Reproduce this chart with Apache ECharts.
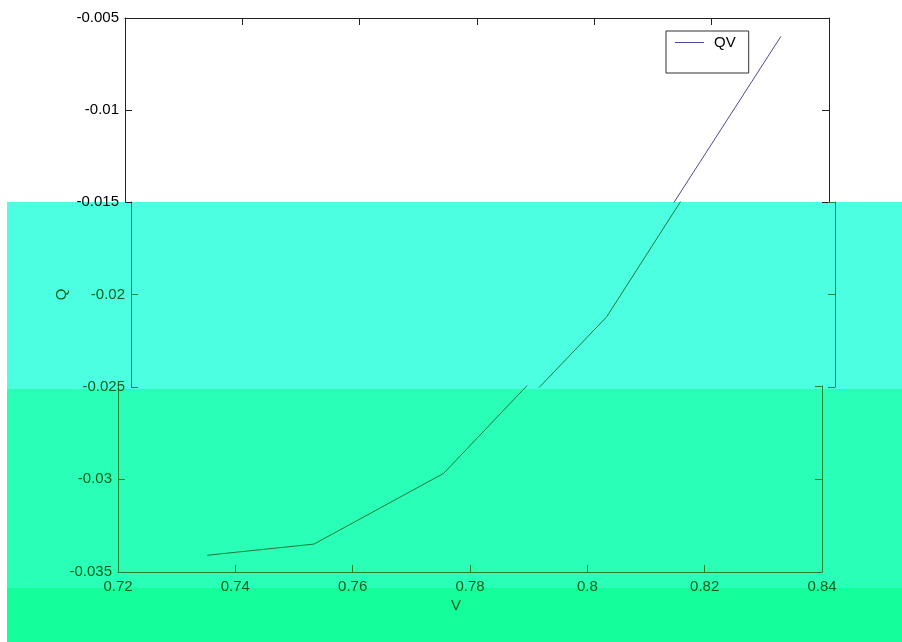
<!DOCTYPE html>
<html><head><meta charset="utf-8">
<script src="https://cdn.jsdelivr.net/npm/echarts@6/dist/echarts.min.js"></script>
<style>html,body{margin:0;padding:0;background:#fff}#c{width:902px;height:642px}</style>
</head><body><div id="c"></div>
<script>
// Data
const V = [0.7352, 0.7534, 0.7755, 0.8011, 0.8318];
const Q = [-0.0341, -0.0335, -0.0297, -0.0212, -0.0060];
const seriesName = 'QV';
const xName = 'V';
const yName = 'Q';
const xTicks = [0.72, 0.74, 0.76, 0.78, 0.80, 0.82, 0.84];
const yTicks = [-0.035, -0.03, -0.025, -0.02, -0.015, -0.01, -0.005];

const pts = V.map((v, i) => [v, Q[i]]);
const xMin = xTicks[0], xMax = xTicks[xTicks.length - 1], xStep = 0.02;
const yStep = 0.005;

const FONT = 'Liberation Sans, Arial, sans-serif';
const DARK = '#222';
const GTXT = '#0f5e17';
const GAX = '#23862a';
const GLINE = '#1e7a3c';
const BLUE = '#4b4b92';

function xAx(grid, opts) {
  return Object.assign({
    type: 'value', gridIndex: grid, min: xMin, max: xMax, interval: xStep,
    splitLine: { show: false }
  }, opts);
}
function yAx(grid, lo, hi, opts) {
  return Object.assign({
    type: 'value', gridIndex: grid, min: lo, max: hi, interval: yStep,
    splitLine: { show: false }
  }, opts);
}
const tickIn = (c) => ({ show: true, inside: true, length: 7, lineStyle: { color: c } });
const line = (c) => ({ show: true, lineStyle: { color: c, width: 1 } });

const option = {
  animation: false,
  backgroundColor: '#fff',
  textStyle: { fontFamily: FONT },
  graphic: [
    { type: 'rect', z: -10, shape: { x: 7, y: 202, width: 895, height: 187 }, style: { fill: '#4dffe1' } },
    { type: 'rect', z: -10, shape: { x: 7, y: 389, width: 895, height: 199 }, style: { fill: '#2affb7' } },
    { type: 'rect', z: -10, shape: { x: 7, y: 588, width: 895, height: 54 }, style: { fill: '#14ff9b' } }
  ],
  legend: {
    data: [{ name: seriesName, icon: 'rect' }],
    left: 666, top: 31,
    padding: [4, 13, 23, 9],
    borderColor: '#333', borderWidth: 1, backgroundColor: '#fff',
    itemWidth: 29, itemHeight: 1,
    textStyle: { fontSize: 15, color: '#000', fontFamily: FONT, padding: [0, 0, 0, 5] }
  },
  grid: [
    { left: 125, top: 18, width: 704, height: 184 },
    { left: 131, top: 202, width: 704, height: 185 },
    { left: 118, top: 386, width: 704, height: 186 }
  ],
  xAxis: [
    xAx(0, { position: 'top', axisLine: line(DARK), axisTick: tickIn(DARK), axisLabel: { show: false } }),
    xAx(1, { show: false }),
    xAx(2, {
      position: 'bottom', axisLine: line(GAX), axisTick: tickIn(GAX),
      axisLabel: { color: GTXT, fontSize: 15, margin: 7, fontFamily: FONT },
      name: xName, nameLocation: 'middle', nameGap: 26,
      nameTextStyle: { color: GTXT, fontSize: 15, fontFamily: FONT, padding: [0, 28, 0, 0] }
    })
  ],
  yAxis: [
    yAx(0, -0.015, -0.005, { position: 'left', axisLine: line(DARK), axisTick: tickIn(DARK),
      axisLabel: { color: '#000', fontSize: 15, margin: 6, fontFamily: FONT } }),
    yAx(0, -0.015, -0.005, { position: 'right', axisLine: line(DARK), axisTick: tickIn(DARK), axisLabel: { show: false } }),
    yAx(1, -0.025, -0.015, { position: 'left', axisLine: line(GAX), axisTick: tickIn(GAX),
      axisLabel: { color: GTXT, fontSize: 15, margin: 6, fontFamily: FONT, showMaxLabel: false },
      name: yName, nameLocation: 'middle', nameGap: 62, nameRotate: 90,
      nameTextStyle: { color: GTXT, fontSize: 15, fontFamily: FONT } }),
    yAx(1, -0.025, -0.015, { position: 'right', axisLine: line(GAX), axisTick: tickIn(GAX), axisLabel: { show: false } }),
    yAx(2, -0.035, -0.025, { position: 'left', axisLine: line(GAX), axisTick: tickIn(GAX),
      axisLabel: { color: GTXT, fontSize: 15, margin: 6, fontFamily: FONT, showMaxLabel: false } }),
    yAx(2, -0.035, -0.025, { position: 'right', axisLine: line(GAX), axisTick: tickIn(GAX), axisLabel: { show: false } })
  ],
  series: [
    { name: seriesName, type: 'line', xAxisIndex: 0, yAxisIndex: 0, data: pts, symbol: 'none',
      color: BLUE, lineStyle: { color: BLUE, width: 1 } },
    { name: seriesName + ' (band 2)', type: 'line', xAxisIndex: 1, yAxisIndex: 2, data: pts, symbol: 'none',
      color: GLINE, lineStyle: { color: GLINE, width: 1 } },
    { name: seriesName + ' (band 3)', type: 'line', xAxisIndex: 2, yAxisIndex: 4, data: pts, symbol: 'none',
      color: GLINE, lineStyle: { color: GLINE, width: 1 } }
  ]
};
const chart = echarts.init(document.getElementById('c'), null, { renderer: 'canvas' });
chart.setOption(option);
</script>
</body></html>
